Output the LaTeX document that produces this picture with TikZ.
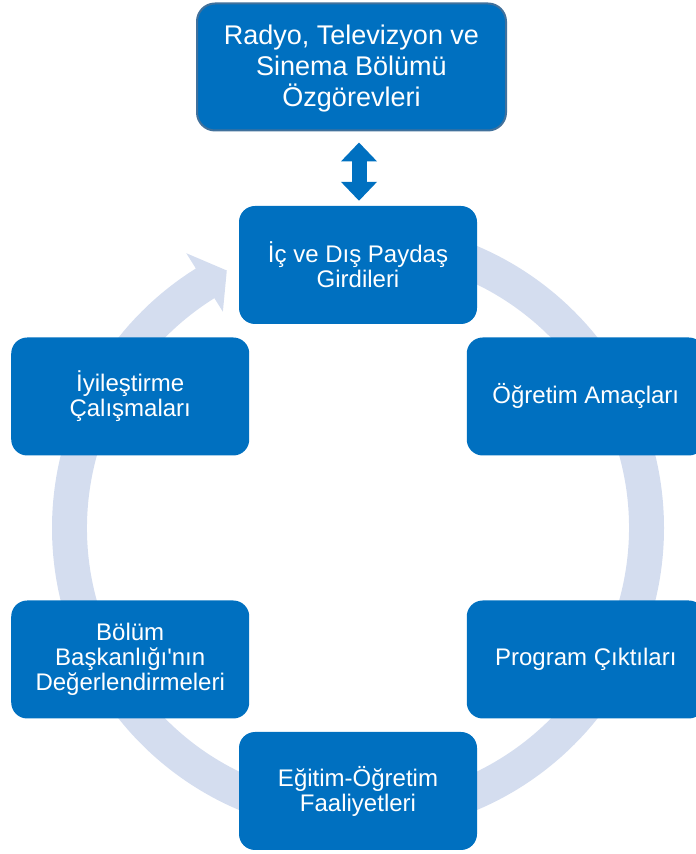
\documentclass[tikz,border=0pt]{standalone}
\usepackage{fontspec}
\newfontfamily\arialfont{Liberation Sans}
\usetikzlibrary{arrows.meta,calc}
\definecolor{boxblue}{HTML}{0070C0}
\definecolor{ringblue}{HTML}{D4DDEF}
\definecolor{topedge}{HTML}{41719C}
\begin{document}
\begin{tikzpicture}[x=1pt,y=1pt,
  cyclebox/.style={fill=boxblue, rounded corners=16pt, minimum width=238pt, minimum height=118pt,
    text=white, align=center, inner sep=0pt, font=\arialfont\fontsize{24}{25}\selectfont},
  topbox/.style={fill=boxblue, draw=topedge, line width=2pt, rounded corners=18pt,
    minimum width=309pt, minimum height=127pt, text=white, align=center, inner sep=0pt,
    font=\arialfont\fontsize{27}{30.8}\selectfont},
  dblarrow/.style={draw=boxblue, line width=15pt,
    {Triangle[width=35pt,length=19pt]}-{Triangle[width=35pt,length=19pt]}}]
\clip (0,0) rectangle (696,854);
\coordinate (C) at (358,326);
% cycle ring with arrowhead
\fill[ringblue] ($(C)+(90:306)$) arc[start angle=90, end angle=-238, radius=306]
  -- ($(C)+(122:324)$) -- ($(C)+(117:289)$) -- ($(C)+(122:255)$) -- ($(C)+(122:271)$)
  arc[start angle=-238, end angle=90, radius=271] -- cycle;
% boxes
\node[cyclebox] (girdi) at ($(C)+(90:263)$) {İç ve Dış Paydaş\\Girdileri};
\node[cyclebox] (amac) at ($(C)+(30:263)$) {Öğretim Amaçları};
\node[cyclebox] (cikti) at ($(C)+(-30:263)$) {Program Çıktıları};
\node[cyclebox] (faal) at ($(C)+(-90:263)$) {Eğitim-Öğretim\\Faaliyetleri};
\node[cyclebox] (deger) at ($(C)+(-150:263)$) {Bölüm\\Başkanlığı'nın\\Değerlendirmeleri};
\node[cyclebox] (iyi) at ($(C)+(150:263)$) {İyileştirme\\Çalışmaları};
\node[topbox] (top) at (351.5,787) {};
\node[text=white, align=center, inner sep=0pt, font=\arialfont\fontsize{27}{30.8}\selectfont]
  (toptext) at ($(top.center)+(0,-1.5)$) {Radyo, Televizyon ve\\Sinema Bölümü\\Özgörevleri};
% double arrow
\coordinate (au) at ($(top.south)+(7.5,-11)$);
\coordinate (ad) at ($(girdi.north)+(1,5)$);
\draw[dblarrow] (au) -- (ad);
\end{tikzpicture}
\end{document}
